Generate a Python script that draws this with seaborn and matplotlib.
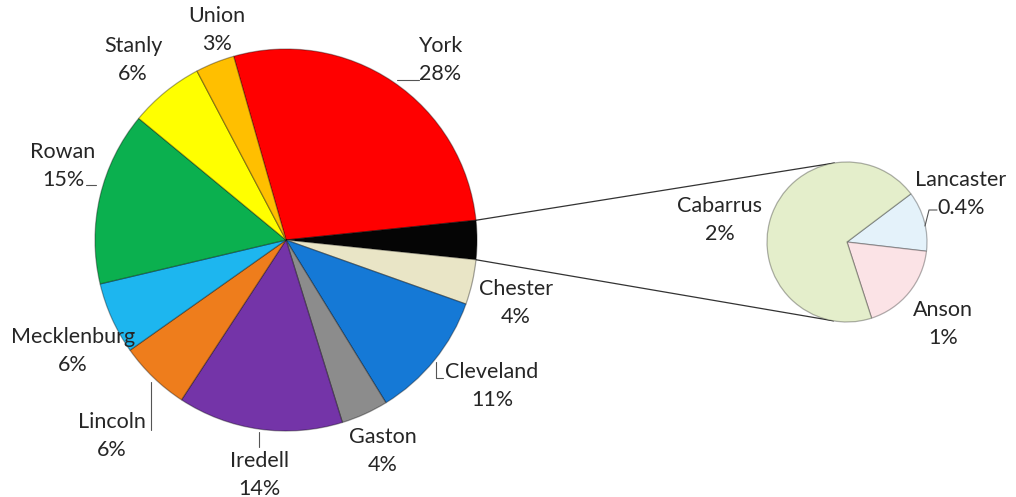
import numpy as np
import matplotlib
matplotlib.use("Agg")
import matplotlib.pyplot as plt
import seaborn as sns

# ---------------- data ----------------
main_names = ["York", "Chester", "Cleveland", "Gaston", "Iredell",
              "Lincoln", "Mecklenburg", "Rowan", "Stanly", "Union"]
main_values = [27.8, 3.8, 10.8, 4.0, 14.0, 6.0, 6.1, 14.7, 6.3, 3.3]
main_pct_labels = ["28%", "4%", "11%", "4%", "14%", "6%", "6%", "15%", "6%", "3%"]
main_colors = ["#FF0000", "#E9E5C6", "#1579D6", "#8C8C8C", "#7434A8",
               "#EE7D1C", "#1DB6EF", "#0BB04F", "#FFFF00", "#FFBF00"]

sec_names = ["Lancaster", "Anson", "Cabarrus"]
sec_values = [0.4, 0.6, 2.3]
sec_pct_labels = ["0.4%", "1%", "2%"]
sec_colors = ["#E4F2FA", "#FBE3E6", "#E4EECB"]
other_color = "#050505"

# ---------------- style ----------------
sns.set_style("white")
plt.rcParams["font.family"] = ["Lato", "DejaVu Sans"]
TXT = "#262626"
FS = 15.5
LS = 1.45

W, H = 1016, 497
fig = plt.figure(figsize=(W / 100, H / 100), dpi=100)
ax = fig.add_axes([0, 0, 1, 1])

def yu(y):  # image row -> axis y
    return H - y

# main pie: York first, then the aggregated slice, then the rest clockwise
other_val = sum(sec_values)
vals = [main_values[0], other_val] + main_values[1:]
cols = [main_colors[0], other_color] + main_colors[1:]
total = sum(vals)
start = (vals[0] + vals[1] / 2) / total * 360.0   # aggregated slice centred at 0 deg

C1 = (286, yu(240)); R1 = 191
C2 = (847, yu(242)); R2 = 80

edge = dict(edgecolor=(0, 0, 0, 0.35), linewidth=0.9)
w1, _ = ax.pie(vals, colors=cols, startangle=start, counterclock=False,
               center=C1, radius=R1, wedgeprops=edge, frame=True)
sec_start = 37
w2, _ = ax.pie(sec_values, colors=sec_colors, startangle=sec_start, counterclock=False,
               center=C2, radius=R2, wedgeprops=dict(edgecolor=(0, 0, 0, 0.3), linewidth=0.9),
               frame=True)
ax.set_xlim(0, W)
ax.set_ylim(0, H)
ax.set_aspect("equal")
ax.axis("off")

# connector lines from the aggregated slice edges tangent to the secondary pie
other_w = w1[1]
for ang, sign in [(other_w.theta2, 1), (other_w.theta1, -1)]:
    a = np.deg2rad(ang)
    P = np.array([C1[0] + R1 * np.cos(a), C1[1] + R1 * np.sin(a)])
    d_vec = np.array(C2) - P
    d = np.hypot(*d_vec)
    base = np.arctan2(d_vec[1], d_vec[0])
    alpha = np.arcsin(R2 / d)
    t = base + sign * alpha
    L = np.sqrt(d ** 2 - R2 ** 2)
    Q = P + L * np.array([np.cos(t), np.sin(t)])
    ax.plot([P[0], Q[0]], [P[1], Q[1]], color="#333333", lw=0.9, zorder=0.5)

# ---------------- labels ----------------
main_pos = [(440, 60), (516, 303), (492, 386), (383, 451), (259, 475),
            (112, 436), (73, 351), (63, 166), (133, 60), (217, 30)]
for name, pct, (x, y) in zip(main_names, main_pct_labels, main_pos):
    ax.text(x, yu(y), f"{name}\n{pct}", ha="center", va="center",
            fontsize=FS, color=TXT, linespacing=LS, zorder=5)

sec_pos = [(961, 194), (943, 324), (720, 220)]
for name, pct, (x, y) in zip(sec_names, sec_pct_labels, sec_pos):
    ax.text(x, yu(y), f"{name}\n{pct}", ha="center", va="center",
            fontsize=FS, color=TXT, linespacing=LS, zorder=5)

# leader lines
lc = dict(color="#555555", lw=0.8, zorder=4)
ax.plot([397, 419], [yu(80), yu(80)], **lc)                      # York
ax.plot([86, 96], [yu(185), yu(185)], **lc)                      # Rowan
ax.plot([151, 151], [yu(382), yu(430)], **lc)                    # Lincoln
ax.plot([259, 259], [yu(432), yu(447)], **lc)                    # Iredell
ax.plot([436, 436, 443], [yu(362), yu(378), yu(378)], **lc)      # Cleveland
ax.plot([925, 929, 937], [yu(226), yu(210), yu(210)], **lc)      # Lancaster

fig.savefig("out.png", dpi=100, facecolor="white")
